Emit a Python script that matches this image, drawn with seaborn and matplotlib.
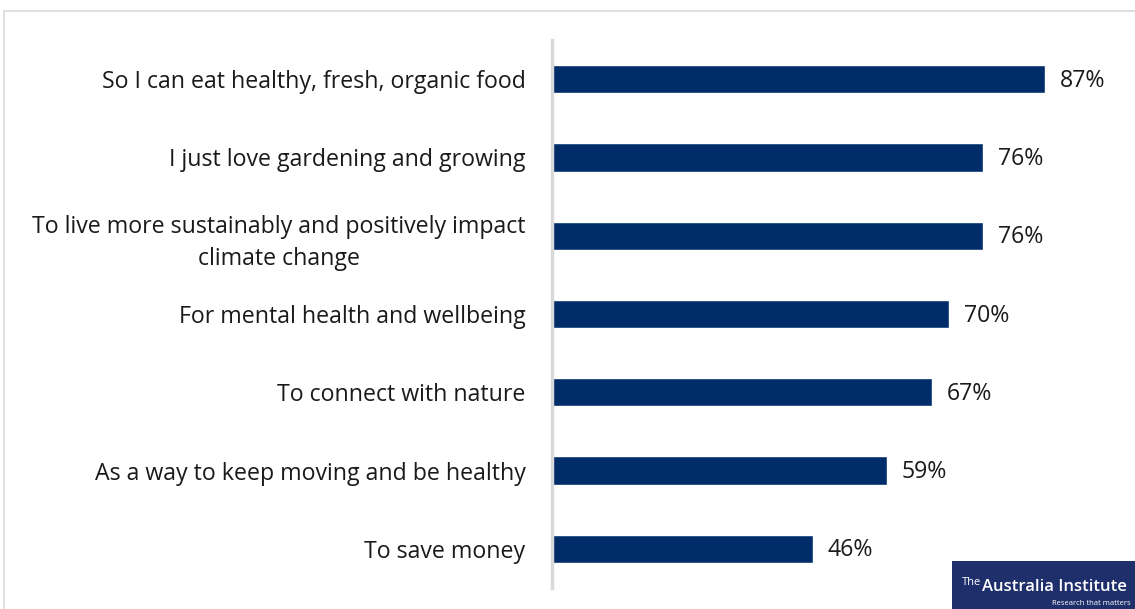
import matplotlib
matplotlib.use("Agg")
import matplotlib.pyplot as plt
from matplotlib.patches import Rectangle
import seaborn as sns
import pandas as pd

reasons = [
    "So I can eat healthy, fresh, organic food",
    "I just love gardening and growing",
    "To live more sustainably and positively impact\nclimate change",
    "For mental health and wellbeing",
    "To connect with nature",
    "As a way to keep moving and be healthy",
    "To save money",
]
shares = [87, 76, 76, 70, 67, 59, 46]

df = pd.DataFrame({"reason": reasons, "share": shares})

sns.set_theme(style="white")
plt.rcParams["font.family"] = ["Open Sans", "DejaVu Sans"]

W, H, DPI = 1135, 609, 100
fig = plt.figure(figsize=(W / DPI, H / DPI), dpi=DPI)
fig.patch.set_facecolor("white")

# light frame around the chart area
fig.patches.append(Rectangle((4 / W, -0.05), 1.2, 1 - 11 / H + 0.05,
                             transform=fig.transFigure, fill=False,
                             edgecolor="#d9d9d9", linewidth=1.2))

left, right, top, bottom = 552, 1119, 40, 588
ax = fig.add_axes([left / W, 1 - bottom / H, (right - left) / W, (bottom - top) / H])

sns.barplot(data=df, x="share", y="reason", orient="h", color="#002d6a",
            width=0.36, saturation=1, ax=ax)

ax.set_xlim(0, 100)
ax.set_ylim(6.5, -0.5)
ax.set_xlabel("")
ax.set_ylabel("")
ax.set_xticks([])
for s in ["top", "right", "bottom"]:
    ax.spines[s].set_visible(False)
ax.spines["left"].set_color("#d9d9d9")
ax.spines["left"].set_linewidth(2.5)
ax.tick_params(axis="y", length=0, pad=19, labelsize=16.7, labelcolor="#1a1a1a")
for lbl in ax.get_yticklabels():
    lbl.set_horizontalalignment("right")
    lbl.set_multialignment("center")
    lbl.set_linespacing(1.45)

for i, v in enumerate(shares):
    ax.text(v + 2.6, i + 0.02, f"{v}%", va="center", ha="left", fontsize=16.7,
            color="#1a1a1a")

# publisher badge
fig.patches.append(Rectangle((952 / W, 0), (W - 952) / W, 48 / H,
                             transform=fig.transFigure, facecolor="#1f2f6b",
                             edgecolor="none"))
fig.text(962 / W, 1 - 585 / H, "The", color="white", fontsize=8,
         va="baseline", ha="left", family="Open Sans")
fig.text(982 / W, 1 - 591 / H, "Australia Institute", color="white", fontsize=12,
         va="baseline", ha="left", family="Open Sans", fontweight="semibold")
fig.text(1131 / W, 1 - 607 / H, "Research that matters", color="white",
         fontsize=5.5, va="bottom", ha="right", family="Open Sans")

fig.savefig("out.png", dpi=DPI)
